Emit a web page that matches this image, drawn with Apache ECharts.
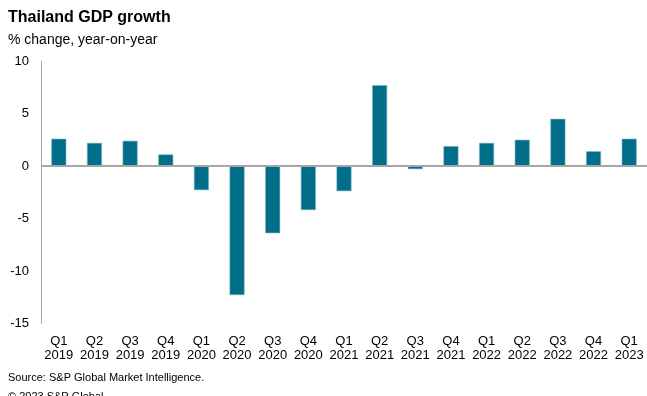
<!DOCTYPE html>
<html><head><meta charset="utf-8">
<script src="https://cdn.jsdelivr.net/npm/echarts@6/dist/echarts.min.js"></script>
<style>html,body{margin:0;padding:0;background:#fff}#c{width:647px;height:396px}</style>
</head><body><div id="c"></div>
<script>
const categories = ["Q1\n2019","Q2\n2019","Q3\n2019","Q4\n2019","Q1\n2020","Q2\n2020","Q3\n2020","Q4\n2020","Q1\n2021","Q2\n2021","Q3\n2021","Q4\n2021","Q1\n2022","Q2\n2022","Q3\n2022","Q4\n2022","Q1\n2023"];
const gdpGrowth = [2.6, 2.2, 2.4, 1.1, -2.3, -12.3, -6.4, -4.2, -2.4, 7.7, -0.3, 1.9, 2.2, 2.5, 4.5, 1.4, 2.6];
const titleText = "Thailand GDP growth";
const subtitleText = "% change, year-on-year";
const sourceText = "Source: S&P Global Market Intelligence.";
const copyrightText = "© 2023 S&P Global";

const font = "Liberation Sans, Arial, sans-serif";
const chart = echarts.init(document.getElementById('c'), null, {renderer:'canvas'});
chart.setOption({
  animation:false,
  backgroundColor:'#fff',
  title:[
    {text:titleText, left:8, top:10, padding:0, textStyle:{fontFamily:font, fontSize:16, fontWeight:'bold', color:'#000'}},
    {text:subtitleText, left:8, top:33, padding:0, textStyle:{fontFamily:font, fontSize:14, fontWeight:'normal', color:'#000'}},
    {text:sourceText, left:8, top:372, padding:0, textStyle:{fontFamily:font, fontSize:11, fontWeight:'normal', color:'#000'}},
    {text:copyrightText, left:8, top:391, padding:0, textStyle:{fontFamily:font, fontSize:11, fontWeight:'normal', color:'#000'}}
  ],
  grid:{left:41, top:61, width:609, height:262.5, containLabel:false},
  xAxis:{
    type:'category', data:categories, position:'bottom',
    axisLine:{show:false}, axisTick:{show:false},
    axisLabel:{fontFamily:font, fontSize:13, color:'#000', margin:11, lineHeight:14, interval:0}
  },
  yAxis:{
    type:'value', min:-15, max:10, interval:5,
    axisLine:{show:true, lineStyle:{color:'#a6a6a6', width:1}},
    axisTick:{show:false}, splitLine:{show:false},
    axisLabel:{fontFamily:font, fontSize:13, color:'#000', margin:12}
  },
  series:[{
    type:'bar', data:gdpGrowth, barWidth:15,
    itemStyle:{color:'#006d89', borderColor:'#7fb3c4', borderWidth:0.6},
    markLine:{silent:true, symbol:'none', label:{show:false},
      lineStyle:{color:'#a6a6a6', width:2, type:'solid'}, data:[{yAxis:0}]}
  }]
});
</script></body></html>
